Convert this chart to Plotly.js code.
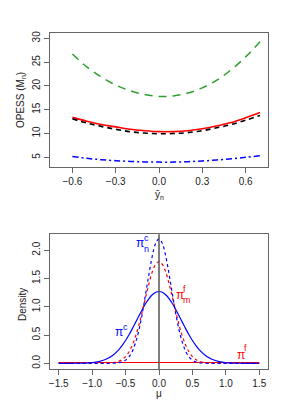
<!DOCTYPE html>
<html><head>
<script src="https://cdn.plot.ly/plotly-3.0.1.min.js"></script>
<style>body{margin:0;background:#fff}#c{width:293px;height:403px}</style>
</head><body><div id="c"></div>
<script>
// ---- top panel: OPESS vs ybar_n ----
const ybarN = [-0.6,-0.5,-0.4,-0.3,-0.2,-0.1,0.0,0.1,0.2,0.3,0.4,0.5,0.6,0.7];
const opessGreen = [26.7,24.0,21.9,20.2,19.0,18.2,17.8,17.9,18.5,19.6,21.2,23.4,26.1,29.3];
const opessRed   = [13.4,12.6,11.9,11.4,10.9,10.6,10.4,10.4,10.6,11.0,11.6,12.3,13.3,14.4];
const opessBlack = [13.1,12.2,11.5,10.9,10.4,10.1,9.95,10.0,10.2,10.6,11.2,11.9,12.8,13.8];
const opessBlue  = [5.2,4.8,4.5,4.3,4.15,4.05,4.0,4.0,4.1,4.25,4.45,4.7,5.0,5.35];
const topXTicks = [-0.6,-0.3,0.0,0.3,0.6];
const topXLabels = ["\u22120.6","\u22120.3","0.0","0.3","0.6"];
const topYTicks = [5,10,15,20,25,30];

// ---- bottom panel: densities vs mu ----
const mu = [-1.5,-1.4,-1.3,-1.2,-1.1,-1.0,-0.9,-0.8,-0.7,-0.6,-0.55,-0.5,-0.45,-0.4,-0.35,-0.3,-0.25,-0.2,-0.15,-0.1,-0.05,
            0,0.05,0.1,0.15,0.2,0.25,0.3,0.35,0.4,0.45,0.5,0.55,0.6,0.7,0.8,0.9,1.0,1.1,1.2,1.3,1.4,1.5];
const piC  = [0,0,0.001,0.002,0.005,0.013,0.031,0.067,0.134,0.243,0.317,0.403,0.501,0.609,0.724,0.840,0.953,1.057,1.146,1.213,1.256,
              1.27,1.256,1.213,1.146,1.057,0.953,0.840,0.724,0.609,0.501,0.403,0.317,0.243,0.134,0.067,0.031,0.013,0.005,0.002,0.001,0,0];
const piNC = [0,0,0,0,0,0,0,0,0.002,0.011,0.026,0.057,0.114,0.21,0.37,0.59,0.88,1.23,1.58,1.90,2.12,
              2.2,2.12,1.90,1.58,1.23,0.88,0.59,0.37,0.21,0.114,0.057,0.026,0.011,0.002,0,0,0,0,0,0,0,0];
const piMF = [0,0,0,0,0,0,0,0.001,0.009,0.037,0.068,0.12,0.20,0.32,0.48,0.68,0.92,1.17,1.41,1.62,1.75,
              1.8,1.75,1.62,1.41,1.17,0.92,0.68,0.48,0.32,0.20,0.12,0.068,0.037,0.009,0.001,0,0,0,0,0,0,0];
const muFlat = [-1.5,1.5];
const piF = [0.015,0.015];
const botXTicks = [-1.5,-1.0,-0.5,0.0,0.5,1.0,1.5];
const botXLabels = ["\u22121.5","\u22121.0","\u22120.5","0.0","0.5","1.0","1.5"];
const botYTicks = [0,0.5,1,1.5,2];
const botYLabels = ["0.0","0.5","1.0","1.5","2.0"];

const traces = [
  {x:ybarN,y:opessGreen,mode:'lines',line:{color:'#2ca02c',width:1.5,dash:'8px,6px',shape:'spline'},xaxis:'x',yaxis:'y'},
  {x:ybarN,y:opessRed,mode:'lines',line:{color:'#ff0000',width:1.6,shape:'spline'},xaxis:'x',yaxis:'y'},
  {x:ybarN,y:opessBlack,mode:'lines',line:{color:'#000000',width:1.6,dash:'5px,4px',shape:'spline'},xaxis:'x',yaxis:'y'},
  {x:ybarN,y:opessBlue,mode:'lines',line:{color:'#0000ff',width:1.5,dash:'6px,3px,2px,3px',shape:'spline'},xaxis:'x',yaxis:'y'},
  {x:muFlat,y:piF,mode:'lines',line:{color:'#ff0000',width:1.2},xaxis:'x2',yaxis:'y2'},
  {x:mu,y:piC,mode:'lines',line:{color:'#0000ff',width:1.2,shape:'spline'},xaxis:'x2',yaxis:'y2'},
  {x:mu,y:piMF,mode:'lines',line:{color:'#ff0000',width:1.2,dash:'3px,3px',shape:'spline'},xaxis:'x2',yaxis:'y2'},
  {x:mu,y:piNC,mode:'lines',line:{color:'#0000ff',width:1.2,dash:'3px,3px',shape:'spline'},xaxis:'x2',yaxis:'y2'}
];

const axisCommon = {showgrid:false,zeroline:false,showline:true,mirror:true,linecolor:'#666',linewidth:1,
  ticks:'outside',ticklen:5,tickcolor:'#666',tickfont:{size:10,color:'#222'}};
const F = 'Liberation Sans, Arial, sans-serif';
const ann = (xr,yr,x,y,t,c,s)=>({xref:xr,yref:yr,x:x,y:y,text:t,showarrow:false,font:{color:c,size:s,family:F},xanchor:'center',yanchor:'middle'});
const layout = {
  width:293,height:403,margin:{l:50,r:25,t:33,b:34},
  paper_bgcolor:'#fff',plot_bgcolor:'#fff',showlegend:false,
  font:{family:F,size:10,color:'#222'},
  xaxis:Object.assign({},axisCommon,{domain:[0,1],range:[-0.755,0.755],tickvals:topXTicks,ticktext:topXLabels,anchor:'y'}),
  yaxis:Object.assign({},axisCommon,{domain:[0.602,0.999],range:[3.03,31.05],tickvals:topYTicks,tickangle:-90,anchor:'x'}),
  xaxis2:Object.assign({},axisCommon,{domain:[0,1],range:[-1.63,1.63],tickvals:botXTicks,ticktext:botXLabels,anchor:'y2'}),
  yaxis2:Object.assign({},axisCommon,{domain:[0,0.401],range:[-0.1,2.282],tickvals:botYTicks,ticktext:botYLabels,tickangle:-90,anchor:'x2'}),
  shapes:[{type:'line',xref:'x2',yref:'y2 domain',x0:0,x1:0,y0:0,y1:1,line:{color:'#555',width:1.5}}],
  annotations:[
    {xref:'paper',yref:'paper',x:(21-50)/218,y:(369-100)/336,xanchor:'center',yanchor:'middle',text:'OPESS (M<sub>n</sub>)',showarrow:false,textangle:-90,font:{size:10,color:'#222',family:F}},
    {xref:'paper',yref:'paper',x:(22-50)/218,y:(369-305)/336,xanchor:'center',yanchor:'middle',text:'Density',showarrow:false,textangle:-90,font:{size:10,color:'#222',family:F}},
    ann('paper','paper',(159.3-50)/218,(369-195)/336,'ȳ<sub>n</sub>','#222',10),
    ann('paper','paper',(159.3-50)/218,(369-393)/336,'μ','#222',10),
    ann('x2','y2',-0.605,0.553,'π','#0000ff',12),
    ann('x2','y2',-0.50,0.64,'c','#0000ff',9),
    ann('x2','y2',-0.288,2.124,'π','#0000ff',12),
    ann('x2','y2',-0.184,2.018,'n','#0000ff',9),
    ann('x2','y2',-0.184,2.212,'c','#0000ff',9),
    ann('x2','y2',0.309,1.206,'π','#ff0000',12),
    ann('x2','y2',0.413,1.117,'m','#ff0000',9),
    ann('x2','y2',0.384,1.311,'f','#ff0000',9),
    ann('x2','y2',1.227,0.147,'π','#ff0000',12),
    ann('x2','y2',1.294,0.27,'f','#ff0000',9)
  ]
};
Plotly.newPlot('c',traces,layout,{displayModeBar:false,staticPlot:true});
</script></body></html>
